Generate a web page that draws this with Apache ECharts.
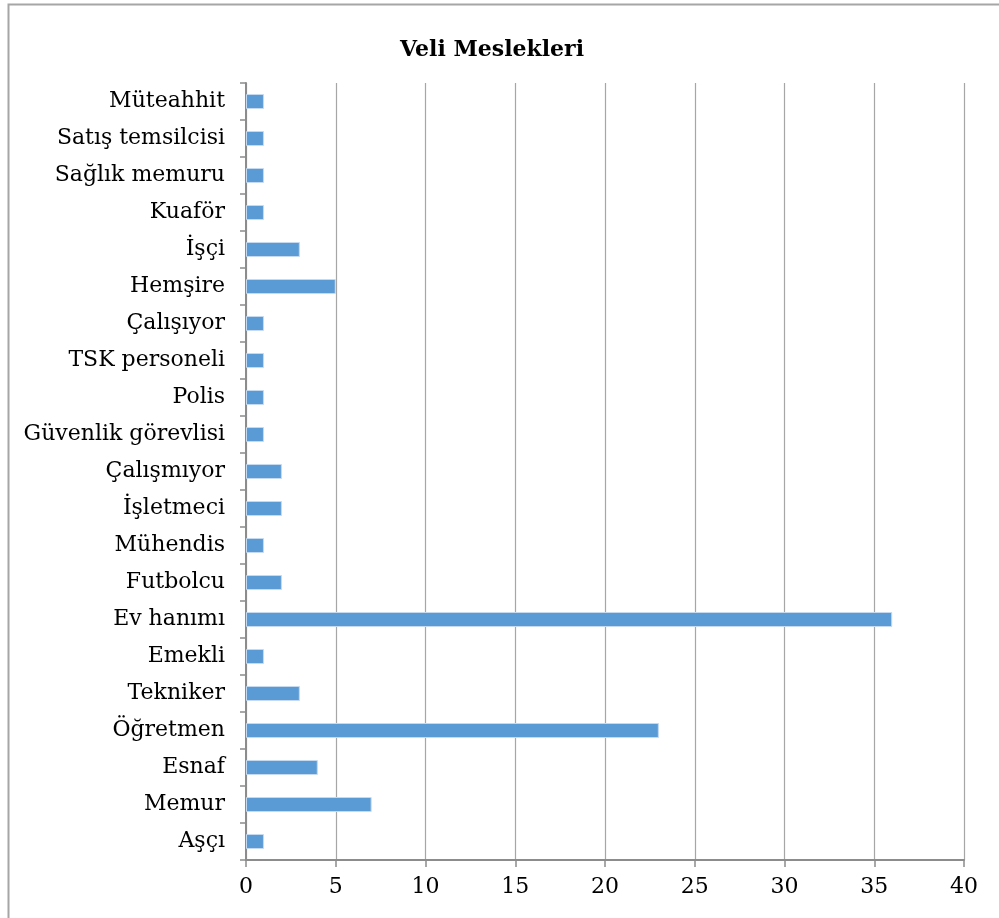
<!DOCTYPE html>
<html>
<head>
<meta charset="utf-8">
<script src="https://cdn.jsdelivr.net/npm/echarts@6/dist/echarts.min.js"></script>
<style>
  html, body { margin: 0; padding: 0; background: #fff; }
  #chart { width: 999px; height: 918px; }
</style>
</head>
<body>
<div id="chart"></div>
<script>
// bottom to top, as drawn
const categories = [
  'Aşçı', 'Memur', 'Esnaf', 'Öğretmen', 'Tekniker', 'Emekli', 'Ev hanımı',
  'Futbolcu', 'Mühendis', 'İşletmeci', 'Çalışmıyor', 'Güvenlik görevlisi',
  'Polis', 'TSK personeli', 'Çalışıyor', 'Hemşire', 'İşçi', 'Kuaför',
  'Sağlık memuru', 'Satış temsilcisi', 'Müteahhit'
]
const counts = [1, 7, 4, 23, 3, 1, 36, 2, 1, 2, 2, 1, 1, 1, 1, 5, 3, 1, 1, 1, 1]
const xTicks = [0, 5, 10, 15, 20, 25, 30, 35, 40]

const fontFamily = '"DejaVu Serif", serif'
const axisGray = '#8c8c8c'

const chart = echarts.init(document.getElementById('chart'))
chart.setOption({
  animation: false,
  title: {
    text: 'Veli Meslekleri',
    left: 487,
    top: 34,
    textAlign: 'center',
    textStyle: {
      fontFamily,
      fontSize: 22,
      fontWeight: 'bold',
      color: '#000'
    }
  },
  graphic: [{
    type: 'rect',
    shape: { x: 8.5, y: 4.5, width: 1100, height: 1100 },
    style: { fill: 'none', stroke: '#a6a6a6', lineWidth: 2 },
    silent: true
  }],
  grid: {
    left: 246,
    right: 35,
    top: 83,
    bottom: 58,
    containLabel: false
  },
  xAxis: {
    type: 'value',
    min: xTicks[0],
    max: xTicks[xTicks.length - 1],
    interval: 5,
    axisLine: { show: true, lineStyle: { color: axisGray, width: 2 } },
    axisTick: { show: true, length: 7, lineStyle: { color: axisGray, width: 1.5 } },
    splitLine: { show: true, lineStyle: { color: '#a6a6a6', width: 1.2 } },
    axisLabel: {
      fontFamily,
      fontSize: 22,
      color: '#000',
      margin: 16
    }
  },
  yAxis: {
    type: 'category',
    data: categories,
    axisLine: { show: true, lineStyle: { color: axisGray, width: 2 } },
    axisTick: { show: true, length: 6, lineStyle: { color: axisGray, width: 1.5 } },
    axisLabel: {
      fontFamily,
      fontSize: 22,
      color: '#000',
      margin: 21
    }
  },
  series: [{
    type: 'bar',
    data: counts,
    barWidth: 15,
    itemStyle: {
      color: '#5b9bd5',
      borderColor: '#c5daf0',
      borderWidth: 1
    }
  }]
})
</script>
</body>
</html>
